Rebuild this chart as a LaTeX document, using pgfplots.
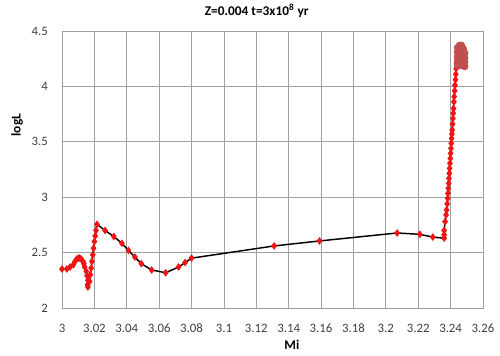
\documentclass[border=0pt]{standalone}
\usepackage{pgfplots}
\pgfplotsset{compat=1.18}
\usepackage{fontspec}
\setmainfont{Carlito}
\definecolor{gridgray}{RGB}{160,160,160}
\definecolor{mkred}{RGB}{240,20,20}
\definecolor{blobred}{RGB}{192,80,77}
\begin{document}
\begin{tikzpicture}
\useasboundingbox (0,0) rectangle (375pt,267pt);
\begin{axis}[
  scale only axis,
  width=315.75pt, height=207.75pt,
  at={(46.5pt,36pt)}, anchor=south west,
  xmin=3, xmax=3.26, ymin=2, ymax=4.5,
  xtick={3,3.02,3.04,3.06,3.08,3.1,3.12,3.14,3.16,3.18,3.2,3.22,3.24,3.26},
  xticklabels={3,3.02,3.04,3.06,3.08,3.1,3.12,3.14,3.16,3.18,3.2,3.22,3.24,3.26},
  ytick={2,2.5,3,3.5,4,4.5},
  yticklabels={2,2.5,3,3.5,4,4.5},
  major tick length=0pt,
  grid=major,
  major grid style={gridgray, line width=0.6pt},
  axis line style={gridgray, line width=0.6pt},
  tick label style={font=\fontsize{9.6}{11}\selectfont, text=black!75},
  xticklabel style={anchor=center, yshift=-15pt},
  yticklabel style={anchor=east, xshift=-7pt},
  clip=false,
]
\addplot[black, line width=1.1pt, mark=diamond*, mark size=2pt,
  mark options={mkred, draw=mkred}] coordinates {
(3.000,2.352) (3.003,2.352) (3.005,2.37) (3.007,2.39) (3.008,2.42) (3.009,2.44)
(3.010,2.45) (3.011,2.45) (3.012,2.44) (3.013,2.42) (3.0135,2.40) (3.014,2.37)
(3.015,2.33) (3.0155,2.29) (3.016,2.25) (3.0158,2.21) (3.016,2.19) (3.017,2.24)
(3.0175,2.30) (3.018,2.36) (3.0185,2.42) (3.019,2.48) (3.0195,2.54) (3.020,2.60)
(3.0205,2.65) (3.021,2.70) (3.0216,2.755) (3.0266,2.70) (3.032,2.645) (3.037,2.584)
(3.041,2.52) (3.045,2.46) (3.049,2.40) (3.0554,2.343) (3.064,2.318) (3.072,2.37)
(3.076,2.41) (3.080,2.45) (3.131,2.56) (3.159,2.605) (3.207,2.677) (3.221,2.665)
(3.229,2.64) (3.236,2.63) (3.236,2.66) (3.236,2.70) (3.2366,2.78) (3.2372,2.84)
(3.2375,2.885) (3.2379,2.94) (3.2382,2.99) (3.2384,3.035) (3.2386,3.08) (3.2388,3.125)
(3.2390,3.17) (3.2392,3.215) (3.2394,3.26) (3.2396,3.306) (3.2398,3.35) (3.2400,3.396)
(3.2402,3.44) (3.2404,3.486) (3.2406,3.53) (3.2408,3.57) (3.2410,3.606) (3.2412,3.66)
(3.2414,3.71) (3.2416,3.757) (3.2418,3.80) (3.2420,3.86) (3.2422,3.907) (3.2425,3.96)
(3.2427,4.01) (3.2430,4.06) (3.2432,4.11) (3.2434,4.16) (3.2436,4.21) (3.2438,4.26)
(3.2440,4.30)
};
\addplot[only marks, mark=*, mark size=2.6pt, mark options={blobred, draw=blobred}] coordinates {
(3.2443,4.19) (3.2443,4.23) (3.2443,4.27) (3.2443,4.31) (3.2443,4.35)
(3.2455,4.19) (3.2455,4.23) (3.2455,4.27) (3.2455,4.31) (3.2455,4.35) (3.2455,4.37)
(3.2467,4.19) (3.2467,4.23) (3.2467,4.27) (3.2467,4.31) (3.2467,4.35) (3.2467,4.37)
(3.2478,4.19) (3.2478,4.23) (3.2478,4.27) (3.2478,4.31) (3.2478,4.34)
(3.2487,4.18) (3.2487,4.22) (3.2487,4.26) (3.2487,4.30)
};
\node[anchor=center, font=\fontsize{10}{12}\selectfont\bfseries] at (rel axis cs:0.4625,1.072) {Z=0.004 t=3x10\textsuperscript{8} yr};
\node[anchor=center, font=\fontsize{10}{12}\selectfont\bfseries] at (rel axis cs:0.546,-0.1336) {Mi};
\node[anchor=center, rotate=90, font=\fontsize{10}{12}\selectfont\bfseries] at (rel axis cs:-0.1069,0.66) {logL};
\end{axis}
\end{tikzpicture}
\end{document}
